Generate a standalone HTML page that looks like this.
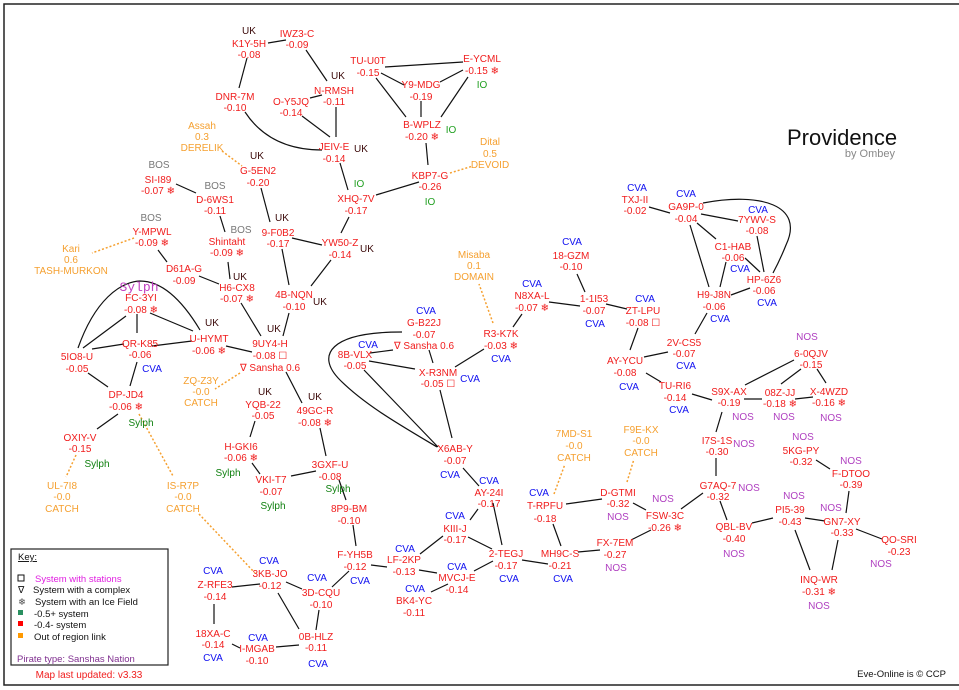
<!DOCTYPE html>
<html><head><meta charset="utf-8"><style>
body{margin:0;background:#fff}
svg{display:block}
text{font-family:"Liberation Sans",sans-serif;font-size:10px;text-anchor:middle}
.r{fill:#f01c1c}
.o{fill:#f5a030}
.c{fill:#1010f0;font-family:"Liberation Mono",monospace;font-size:11px}
.n{fill:#b040c0;font-family:"Liberation Mono",monospace;font-size:11px}
.u{fill:#3a0808;font-family:"Liberation Mono",monospace;font-size:11px}
.i{fill:#22a022;font-family:"Liberation Mono",monospace;font-size:11px}
.b{fill:#777;font-family:"Liberation Mono",monospace;font-size:11px}
.s{fill:#108010;font-family:"Liberation Mono",monospace;font-size:13px}
.sp{fill:#c040c0;font-family:"Liberation Mono",monospace;font-size:13px}
.l{stroke:#111;stroke-width:1.2;fill:none}
.d{stroke:#f5a030;stroke-width:1.5;stroke-dasharray:2,2;fill:none}
.k{text-anchor:start;font-size:9.5px;fill:#111}
</style></head><body>
<svg width="959" height="690" viewBox="0 0 959 690">
<path d="M959,4 H4 V685 H959" fill="none" stroke="#222" stroke-width="1.5"/>
<g class="l">
<path d="M268,43L286,40M247,58L239,88M306,50L327,81M245,112Q270,150 322,150M310,98L322,95M302,116L330,137M336,107L336,137"/>
<path d="M385,67L463,62M381,73L404,85M376,78L406,117M440,82L463,70M421,101L421,117M468,77L441,117M426,143L428,165"/>
<path d="M340,163L348,190M376,195L419,182M261,188L270,222M349,217L341,233M292,238L322,245M282,249L289,285M331,260L311,286"/>
<path d="M176,184L196,193M220,216L225,232M158,250L167,262M199,276L219,284M228,262L230,279M241,303L261,336M289,313L283,336"/>
<path d="M150,313L193,331M137,314L137,333M126,316L83,348M78,348C95,300 120,282 140,281C165,281 185,305 200,330M152,346L192,341M124,344L92,349M226,346L252,352M88,373L108,387M137,362L130,386"/>
<path d="M286,372L302,403M118,414L97,429M255,421L250,437M252,463L260,474M291,476L316,471M320,428L326,456M339,480L346,500M353,525L356,546"/>
<path d="M371,565L387,567M349,571L332,587M232,587L260,584M286,582L302,589M278,593L299,629M214,604L214,624M232,644L240,648M276,647L299,645M319,610L316,630"/>
<path d="M420,554L443,536M419,570L437,573M468,537L492,549M448,584L431,592M474,571L493,561M470,520L478,509M493,503L502,545M463,468L479,486"/>
<path d="M370,353L393,350M429,350L433,363M369,361L415,369M455,367L484,349M364,370L438,447M440,390L452,438M402,332C330,332 315,355 340,380C365,405 400,425 437,447"/>
<path d="M513,327L522,314M549,302L580,306M577,274L585,292M606,304L627,309M638,328L630,350"/>
<path d="M649,207L670,213M701,214L738,221M697,223L716,239M690,225L709,287M703,203C760,192 805,205 786,245Q780,260 773,273M757,236L764,272M745,258L760,272M726,262L720,287M731,295L750,288M707,313L695,334"/>
<path d="M644,357L668,352M646,373L661,382M692,394L712,400M745,385L794,360M744,399L762,399M781,384L801,369M817,369L826,383M795,399L813,397M722,412L716,432M716,458L716,476M816,460L830,469"/>
<path d="M703,493L681,509M720,501L727,520M752,523L773,518M805,518L825,521M849,491L846,513M795,530L810,570M838,540L832,570M856,529L882,539"/>
<path d="M566,504L602,499M633,503L646,510M651,530L631,540M553,524L561,546M578,552L600,550M522,560L548,564"/>
</g>
<g class="d">
<path d="M450,173L473,166M222,151L242,166M134,238L92,253M240,373L215,389M139,414L173,476M76,455L66,477M199,514L255,573M493,323L479,284M554,494L565,464M627,482L634,459"/>
</g>
<text x="787" y="145" style="font-size:22px;text-anchor:start;fill:#111">Providence</text>
<text x="895" y="157" style="font-size:11px;text-anchor:end;fill:#888">by Ombey</text>
<g class="r">
<text x="249" y="47">K1Y-5H</text><text x="249" y="58">-0.08</text>
<text x="297" y="37">IWZ3-C</text><text x="297" y="48">-0.09</text>
<text x="235" y="100">DNR-7M</text><text x="235" y="111">-0.10</text>
<text x="291" y="105">O-Y5JQ</text><text x="291" y="116">-0.14</text>
<text x="334" y="94">N-RMSH</text><text x="334" y="105">-0.11</text>
<text x="334" y="150">JEIV-E</text><text x="334" y="162">-0.14</text>
<text x="368" y="64">TU-U0T</text><text x="368" y="76">-0.15</text>
<text x="421" y="88">Y9-MDG</text><text x="421" y="100">-0.19</text>
<text x="482" y="62">E-YCML</text><text x="482" y="74">-0.15 ❄</text>
<text x="422" y="128">B-WPLZ</text><text x="422" y="140">-0.20 ❄</text>
<text x="430" y="179">KBP7-G</text><text x="430" y="190">-0.26</text>
<text x="258" y="174">G-5EN2</text><text x="258" y="186">-0.20</text>
<text x="356" y="202">XHQ-7V</text><text x="356" y="214">-0.17</text>
<text x="158" y="183">SI-I89</text><text x="158" y="194">-0.07 ❄</text>
<text x="215" y="203">D-6WS1</text><text x="215" y="214">-0.11</text>
<text x="278" y="236">9-F0B2</text><text x="278" y="247">-0.17</text>
<text x="340" y="246">YW50-Z</text><text x="340" y="258">-0.14</text>
<text x="152" y="235">Y-MPWL</text><text x="152" y="246">-0.09 ❄</text>
<text x="227" y="245">Shintaht</text><text x="227" y="256">-0.09 ❄</text>
<text x="184" y="272">D61A-G</text><text x="184" y="284">-0.09</text>
<text x="237" y="291">H6-CX8</text><text x="237" y="302">-0.07 ❄</text>
<text x="294" y="298">4B-NQN</text><text x="294" y="310">-0.10</text>
<text x="141" y="301">FC-3YI</text><text x="141" y="313">-0.08 ❄</text>
<text x="140" y="347">QR-K85</text><text x="140" y="358">-0.06</text>
<text x="209" y="342">U-HYMT</text><text x="209" y="354">-0.06 ❄</text>
<text x="270" y="347">9UY4-H</text><text x="270" y="359">-0.08 ☐</text><text x="270" y="371">∇ Sansha 0.6</text>
<text x="77" y="360">5IO8-U</text><text x="77" y="372">-0.05</text>
<text x="126" y="398">DP-JD4</text><text x="126" y="410">-0.06 ❄</text>
<text x="263" y="408">YQB-22</text><text x="263" y="419">-0.05</text>
<text x="315" y="414">49GC-R</text><text x="315" y="426">-0.08 ❄</text>
<text x="80" y="441">OXIY-V</text><text x="80" y="452">-0.15</text>
<text x="241" y="450">H-GKI6</text><text x="241" y="461">-0.06 ❄</text>
<text x="271" y="483">VKI-T7</text><text x="271" y="495">-0.07</text>
<text x="330" y="468">3GXF-U</text><text x="330" y="480">-0.08</text>
<text x="349" y="512">8P9-BM</text><text x="349" y="524">-0.10</text>
<text x="355" y="558">F-YH5B</text><text x="355" y="570">-0.12</text>
<text x="270" y="577">3KB-JO</text><text x="270" y="589">-0.12</text>
<text x="215" y="588">Z-RFE3</text><text x="215" y="600">-0.14</text>
<text x="321" y="596">3D-CQU</text><text x="321" y="608">-0.10</text>
<text x="213" y="637">18XA-C</text><text x="213" y="648">-0.14</text>
<text x="257" y="652">I-MGAB</text><text x="257" y="664">-0.10</text>
<text x="316" y="640">0B-HLZ</text><text x="316" y="651">-0.11</text>
<text x="404" y="563">LF-2KP</text><text x="404" y="575">-0.13</text>
<text x="455" y="532">KIII-J</text><text x="455" y="543">-0.17</text>
<text x="457" y="581">MVCJ-E</text><text x="457" y="593">-0.14</text>
<text x="414" y="604">BK4-YC</text><text x="414" y="616">-0.11</text>
<text x="489" y="496">AY-24I</text><text x="489" y="507">-0.17</text>
<text x="506" y="557">2-TEGJ</text><text x="506" y="569">-0.17</text>
<text x="455" y="452">X6AB-Y</text><text x="455" y="464">-0.07</text>
<text x="424" y="326">G-B22J</text><text x="424" y="338">-0.07</text><text x="424" y="349">∇ Sansha 0.6</text>
<text x="355" y="358">8B-VLX</text><text x="355" y="369">-0.05</text>
<text x="438" y="376">X-R3NM</text><text x="438" y="387">-0.05 ☐</text>
<text x="501" y="337">R3-K7K</text><text x="501" y="349">-0.03 ❄</text>
<text x="532" y="299">N8XA-L</text><text x="532" y="311">-0.07 ❄</text>
<text x="571" y="259">18-GZM</text><text x="571" y="270">-0.10</text>
<text x="594" y="302">1-1I53</text><text x="594" y="314">-0.07</text>
<text x="643" y="314">ZT-LPU</text><text x="643" y="326">-0.08 ☐</text>
<text x="635" y="203">TXJ-II</text><text x="635" y="214">-0.02</text>
<text x="686" y="210">GA9P-0</text><text x="686" y="222">-0.04</text>
<text x="757" y="223">7YWV-S</text><text x="757" y="234">-0.08</text>
<text x="733" y="250">C1-HAB</text><text x="733" y="261">-0.06</text>
<text x="764" y="283">HP-6Z6</text><text x="764" y="294">-0.06</text>
<text x="714" y="298">H9-J8N</text><text x="714" y="310">-0.06</text>
<text x="684" y="346">2V-CS5</text><text x="684" y="357">-0.07</text>
<text x="625" y="364">AY-YCU</text><text x="625" y="376">-0.08</text>
<text x="675" y="389">TU-RI6</text><text x="675" y="401">-0.14</text>
<text x="729" y="395">S9X-AX</text><text x="729" y="406">-0.19</text>
<text x="811" y="357">6-0QJV</text><text x="811" y="368">-0.15</text>
<text x="780" y="396">08Z-JJ</text><text x="780" y="407">-0.18 ❄</text>
<text x="829" y="395">X-4WZD</text><text x="829" y="406">-0.16 ❄</text>
<text x="717" y="444">I7S-1S</text><text x="717" y="455">-0.30</text>
<text x="801" y="454">5KG-PY</text><text x="801" y="465">-0.32</text>
<text x="851" y="477">F-DTOO</text><text x="851" y="488">-0.39</text>
<text x="718" y="489">G7AQ-7</text><text x="718" y="500">-0.32</text>
<text x="665" y="519">FSW-3C</text><text x="665" y="531">-0.26 ❄</text>
<text x="618" y="496">D-GTMI</text><text x="618" y="507">-0.32</text>
<text x="545" y="509">T-RPFU</text><text x="545" y="522">-0.18</text>
<text x="560" y="557">MH9C-S</text><text x="560" y="569">-0.21</text>
<text x="615" y="546">FX-7EM</text><text x="615" y="558">-0.27</text>
<text x="790" y="513">PI5-39</text><text x="790" y="525">-0.43</text>
<text x="842" y="525">GN7-XY</text><text x="842" y="536">-0.33</text>
<text x="734" y="530">QBL-BV</text><text x="734" y="542">-0.40</text>
<text x="899" y="543">QO-SRI</text><text x="899" y="555">-0.23</text>
<text x="819" y="583">INQ-WR</text><text x="819" y="595">-0.31 ❄</text>
</g>
<g class="o">
<text x="490" y="145">Dital</text><text x="490" y="157">0.5</text><text x="490" y="168">DEVOID</text>
<text x="202" y="129">Assah</text><text x="202" y="140">0.3</text><text x="202" y="151">DERELIK</text>
<text x="71" y="252">Kari</text><text x="71" y="263">0.6</text><text x="71" y="274">TASH-MURKON</text>
<text x="474" y="258">Misaba</text><text x="474" y="269">0.1</text><text x="474" y="280">DOMAIN</text>
<text x="201" y="384">ZQ-Z3Y</text><text x="201" y="395">-0.0</text><text x="201" y="406">CATCH</text>
<text x="62" y="489">UL-7I8</text><text x="62" y="500">-0.0</text><text x="62" y="512">CATCH</text>
<text x="183" y="489">IS-R7P</text><text x="183" y="500">-0.0</text><text x="183" y="512">CATCH</text>
<text x="574" y="437">7MD-S1</text><text x="574" y="449">-0.0</text><text x="574" y="461">CATCH</text>
<text x="641" y="433">F9E-KX</text><text x="641" y="444">-0.0</text><text x="641" y="456">CATCH</text>
</g>
<g class="u">
<text x="249" y="34">UK</text><text x="338" y="79">UK</text><text x="361" y="152">UK</text><text x="257" y="159">UK</text><text x="282" y="221">UK</text><text x="367" y="252">UK</text><text x="240" y="280">UK</text><text x="320" y="305">UK</text><text x="212" y="326">UK</text><text x="274" y="332">UK</text><text x="265" y="395">UK</text><text x="315" y="400">UK</text>
</g>
<g class="i"><text x="482" y="88">IO</text><text x="451" y="133">IO</text><text x="430" y="205">IO</text><text x="359" y="187">IO</text></g>
<g class="b"><text x="159" y="168">BOS</text><text x="215" y="189">BOS</text><text x="151" y="221">BOS</text><text x="241" y="233">BOS</text></g>
<text class="sp" x="139" y="291">Sylph</text>
<g class="s"><text x="141" y="426">Sylph</text><text x="97" y="467">Sylph</text><text x="228" y="476">Sylph</text><text x="273" y="509">Sylph</text><text x="338" y="492">Sylph</text></g>
<g class="c">
<text x="152" y="372">CVA</text><text x="269" y="564">CVA</text><text x="213" y="574">CVA</text><text x="317" y="581">CVA</text><text x="360" y="584">CVA</text><text x="213" y="661">CVA</text><text x="258" y="641">CVA</text><text x="318" y="667">CVA</text>
<text x="405" y="552">CVA</text><text x="455" y="519">CVA</text><text x="457" y="570">CVA</text><text x="415" y="592">CVA</text><text x="489" y="484">CVA</text><text x="509" y="582">CVA</text><text x="450" y="478">CVA</text>
<text x="426" y="314">CVA</text><text x="368" y="348">CVA</text><text x="470" y="382">CVA</text><text x="501" y="362">CVA</text><text x="532" y="287">CVA</text><text x="572" y="245">CVA</text><text x="595" y="327">CVA</text><text x="645" y="302">CVA</text>
<text x="637" y="191">CVA</text><text x="686" y="197">CVA</text><text x="758" y="213">CVA</text><text x="740" y="272">CVA</text><text x="767" y="306">CVA</text><text x="720" y="322">CVA</text><text x="686" y="369">CVA</text><text x="629" y="390">CVA</text><text x="679" y="413">CVA</text>
<text x="539" y="496">CVA</text><text x="563" y="582">CVA</text>
</g>
<g class="n">
<text x="743" y="420">NOS</text><text x="807" y="340">NOS</text><text x="784" y="420">NOS</text><text x="831" y="421">NOS</text><text x="744" y="447">NOS</text><text x="803" y="440">NOS</text><text x="851" y="464">NOS</text><text x="749" y="491">NOS</text><text x="663" y="502">NOS</text><text x="618" y="520">NOS</text><text x="616" y="571">NOS</text><text x="794" y="499">NOS</text><text x="831" y="511">NOS</text><text x="734" y="557">NOS</text><text x="881" y="567">NOS</text><text x="819" y="609">NOS</text>
</g>
<rect x="11" y="549" width="157" height="116" fill="none" stroke="#222" stroke-width="1.2"/>
<text class="k" x="18" y="560" style="text-decoration:underline">Key:</text>
<rect x="18" y="575" width="6" height="6" fill="none" stroke="#111"/>
<text class="k" x="35" y="582" style="fill:#e020e0">System with stations</text>
<text class="k" x="18" y="593">∇</text><text class="k" x="33" y="593">System with a complex</text>
<text class="k" x="18" y="605" style="fill:#555">❄</text><text class="k" x="35" y="605">System with an Ice Field</text>
<rect x="18" y="610" width="5" height="5" fill="#2a9060"/><text class="k" x="34" y="617">-0.5+ system</text>
<rect x="18" y="621" width="5" height="5" fill="#f00"/><text class="k" x="34" y="628">-0.4- system</text>
<rect x="18" y="633" width="5" height="5" fill="#f90"/><text class="k" x="34" y="640">Out of region link</text>
<text class="k" x="17" y="662" style="fill:#803090">Pirate type: Sanshas Nation</text>
<text x="89" y="678" style="fill:#f01c1c">Map last updated: v3.33</text>
<text x="946" y="677" style="text-anchor:end;fill:#111;font-size:9.5px">Eve-Online is © CCP</text>
</svg>
</body></html>
